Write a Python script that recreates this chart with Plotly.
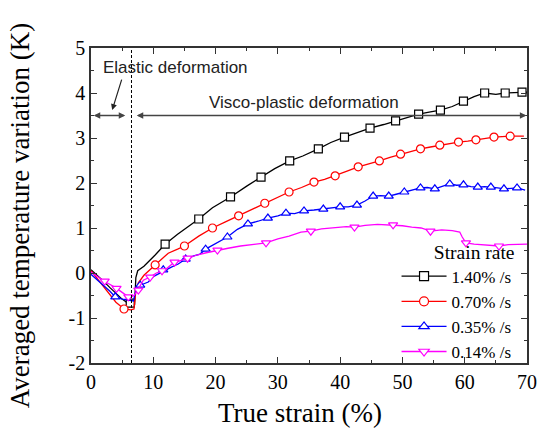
import plotly.graph_objects as go

# ---------------- data ----------------
series_names = ["1.40% /s", "0.70% /s", "0.35% /s", "0.14% /s"]

# 1.40 %/s
k_x = [0, 1, 2, 3, 4, 5, 6, 6.3, 7.0, 7.2, 7.5, 8.5, 10.3, 11.9, 13.9, 15.5, 17.3, 19.5, 22.4, 25, 27.3,
       29.5, 31.9, 34, 36.5, 38.5, 40.7, 42.8, 44.8, 47, 48.9, 50.8, 52.6, 54.5, 56.1, 58, 59.8, 61.5,
       63.2, 65, 66.5, 68, 69.2, 70]
k_y = [0.07, -0.05, -0.18, -0.32, -0.45, -0.58, -0.68, -0.67, -0.70, -0.10, 0.05, 0.15, 0.40, 0.64, 0.86,
       1.02, 1.20, 1.45, 1.69, 1.93, 2.13, 2.32, 2.49, 2.60, 2.76, 2.90, 3.02, 3.12, 3.22, 3.30, 3.38,
       3.47, 3.53, 3.58, 3.62, 3.70, 3.82, 3.92, 4.00, 3.97, 4.00, 4.01, 4.02, 4.02]
k_mx = [6.3, 11.9, 17.3, 22.4, 27.3, 31.9, 36.5, 40.7, 44.8, 48.9, 52.6, 56.1, 59.8, 63.2, 66.5, 69.2]
k_my = [-0.67, 0.64, 1.20, 1.69, 2.13, 2.49, 2.76, 3.02, 3.22, 3.38, 3.53, 3.62, 3.82, 4.00, 4.00, 4.02]

# 0.70 %/s
r_x = [0, 1, 2, 3, 4, 5.3, 6.4, 6.9, 7.2, 7.6, 8.5, 10.3, 12.4, 13.9, 15, 17.3, 19.5, 21.5, 23.7, 25.8,
       27.9, 30, 31.8, 33.8, 35.8, 37.5, 39.2, 41, 42.9, 44.6, 46.3, 48, 49.7, 51.3, 52.9, 54.5, 56,
       57.5, 59, 60.5, 61.8, 63.2, 64.7, 66, 67.3, 69.5]
r_y = [0.05, -0.12, -0.30, -0.48, -0.65, -0.80, -0.82, -0.80, -0.40, -0.22, -0.05, 0.18, 0.44, 0.53,
       0.60, 0.82, 1.00, 1.13, 1.27, 1.42, 1.55, 1.68, 1.80, 1.90, 2.02, 2.08, 2.16, 2.26, 2.36, 2.42,
       2.49, 2.57, 2.64, 2.70, 2.76, 2.80, 2.84, 2.87, 2.91, 2.93, 2.96, 2.99, 3.02, 3.03, 3.04, 3.04]
r_mx = [5.3, 10.3, 15, 19.5, 23.7, 27.9, 31.8, 35.8, 39.2, 42.9, 46.3, 49.7, 52.9, 56, 59, 61.8, 64.7, 67.3]
r_my = [-0.80, 0.18, 0.60, 1.00, 1.27, 1.55, 1.80, 2.02, 2.16, 2.36, 2.49, 2.64, 2.76, 2.84, 2.91, 2.96,
        3.02, 3.04]

# 0.35 %/s
b_x = [0, 1, 2, 3, 3.9, 5, 6.0, 6.8, 7.1, 7.5, 8.3, 9.2, 10, 11.1, 12, 12.9, 14, 15.2, 16.5, 17.5, 18.4,
       19.5, 20.5, 21.9, 23.5, 25.2, 26.8, 28.4, 30, 31.3, 32.7, 34.2, 35.8, 37.3, 38.7, 40, 41.3, 42.7,
       44, 45.3, 46.5, 47.8, 49, 50.3, 51.5, 52.9, 54, 55.2, 56.5, 57.6, 58.7, 59.8, 61, 62.1, 63.2,
       64.2, 65.3, 66.3, 67.4, 68.4, 69.7]
b_y = [-0.03, -0.15, -0.28, -0.40, -0.53, -0.58, -0.60, -0.62, -0.45, -0.33, -0.25, -0.20, -0.08, 0.00,
       0.08, 0.13, 0.20, 0.31, 0.38, 0.42, 0.53, 0.62, 0.70, 0.80, 0.97, 1.09, 1.15, 1.22, 1.27, 1.33,
       1.32, 1.38, 1.40, 1.42, 1.45, 1.47, 1.47, 1.51, 1.60, 1.71, 1.72, 1.71, 1.75, 1.80, 1.83, 1.89,
       1.90, 1.87, 1.93, 1.98, 1.95, 1.96, 1.92, 1.91, 1.92, 1.91, 1.89, 1.87, 1.88, 1.89, 1.84]
b_mx = [3.9, 7.9, 11.6, 15.2, 18.4, 21.9, 25.2, 28.4, 31.3, 34.2, 37.3, 40, 42.7, 45.3, 47.8, 50.3, 52.9,
        55.2, 57.6, 59.8, 62.1, 64.2, 66.3, 68.4]
b_my = [-0.53, -0.27, 0.07, 0.31, 0.53, 0.80, 1.09, 1.22, 1.33, 1.38, 1.42, 1.47, 1.51, 1.71, 1.71, 1.80,
        1.89, 1.87, 1.98, 1.96, 1.91, 1.91, 1.87, 1.89]

# 0.14 %/s
m_x = [0, 1, 2.3, 3, 4.0, 5, 5.6, 6.5, 6.9, 7.5, 8.4, 9.5, 10.5, 11.9, 13.2, 14.5, 15.5, 17, 18.5, 20.3,
       22, 24, 26, 28.1, 30, 31.8, 33.7, 35.3, 37, 39, 41, 42.3, 44, 46, 48.5, 50, 51.5, 53, 54.5, 56.3,
       58, 59.2, 59.6, 60.2, 61.5, 63, 65.5, 67, 68.5, 70]
m_y = [0.02, -0.08, -0.20, -0.25, -0.33, -0.43, -0.49, -0.53, -0.50, -0.38, -0.16, -0.09, 0.00, 0.07,
       0.22, 0.28, 0.33, 0.40, 0.45, 0.51, 0.55, 0.60, 0.64, 0.67, 0.76, 0.82, 0.91, 0.93, 0.98, 1.00,
       1.03, 1.02, 1.06, 1.08, 1.07, 1.05, 1.02, 1.00, 0.93, 0.96, 0.94, 0.91, 0.80, 0.67, 0.64, 0.63,
       0.60, 0.63, 0.63, 0.64]
m_mx = [2.2, 4.1, 6.0, 7.6, 9.5, 11.4, 13.4, 15.5, 20.3, 28.1, 35.3, 42.3, 48.5, 54.5, 60.2, 65.5]
m_my = [-0.18, -0.34, -0.53, -0.38, -0.09, 0.05, 0.24, 0.33, 0.51, 0.67, 0.93, 1.02, 1.07, 0.93, 0.67, 0.60]

x_ticks = [0, 10, 20, 30, 40, 50, 60, 70]
y_ticks = [-2, -1, 0, 1, 2, 3, 4, 5]
elastic_limit = 6.5

colors = ["#000000", "#ff0000", "#0000ff", "#ff00ff"]
symbols = ["square", "circle", "triangle-up", "triangle-down"]
lines = [(k_x, k_y), (r_x, r_y), (b_x, b_y), (m_x, m_y)]
marks = [(k_mx, k_my), (r_mx, r_my), (b_mx, b_my), (m_mx, m_my)]

SERIF = "Liberation Serif, Times New Roman, serif"
SANS = "Liberation Sans, Arial, sans-serif"

fig = go.Figure()
for i in range(4):
    c = colors[i]
    mk = dict(symbol=symbols[i], size=8, color="white", line=dict(color=c, width=1.2))
    fig.add_trace(go.Scatter(x=lines[i][0], y=lines[i][1], mode="lines",
                             line=dict(color=c, width=1.3), showlegend=False, hoverinfo="skip"))
    fig.add_trace(go.Scatter(x=marks[i][0], y=marks[i][1], mode="markers",
                             marker=mk, showlegend=False))
for i in range(4):
    c = colors[i]
    mk = dict(symbol=symbols[i], size=9, color="white", line=dict(color=c, width=1.2))
    fig.add_trace(go.Scatter(x=[None], y=[None], mode="lines+markers", name=series_names[i],
                             line=dict(color=c, width=1.3), marker=mk))

# dashed boundary
fig.add_shape(type="line", xref="x", yref="paper", x0=elastic_limit, x1=elastic_limit, y0=0, y1=1,
              line=dict(color="black", width=1, dash="3px,2px"))

arrow_col = "#444444"
# double arrows
fig.add_annotation(x=5.5, y=3.5, ax=0.2, ay=3.5, xref="x", yref="y", axref="x", ayref="y",
                   showarrow=True, arrowhead=2, startarrowhead=2, arrowside="end+start",
                   arrowsize=1, arrowwidth=1.3, arrowcolor=arrow_col, text="")
fig.add_annotation(x=69.9, y=3.5, ax=7.1, ay=3.5, xref="x", yref="y", axref="x", ayref="y",
                   showarrow=True, arrowhead=2, startarrowhead=2, arrowside="end+start",
                   arrowsize=1, arrowwidth=1.3, arrowcolor=arrow_col, text="")
# pointer
fig.add_annotation(x=3.4, y=3.62, ax=5.0, ay=4.33, xref="x", yref="y", axref="x", ayref="y",
                   showarrow=True, arrowhead=2, arrowsize=1, arrowwidth=1.2, arrowcolor="#222222",
                   text="")
fig.add_annotation(x=13.5, y=4.56, xref="x", yref="y", text="Elastic deformation", showarrow=False,
                   font=dict(family=SANS, size=17, color="#222222"))
fig.add_annotation(x=34.2, y=3.78, xref="x", yref="y", text="Visco-plastic deformation", showarrow=False,
                   font=dict(family=SANS, size=17, color="#222222"))

# axis titles
fig.add_annotation(x=0.479, y=-0.159, xref="paper", yref="paper", text="True strain (%)",
                   showarrow=False, yanchor="middle", font=dict(family=SERIF, size=27, color="black"))
fig.add_annotation(x=-0.162, y=0.47, xref="paper", yref="paper", text="Averaged temperature variation (K)",
                   showarrow=False, textangle=-90, xanchor="center", yanchor="middle",
                   font=dict(family=SERIF, size=27, color="black"))

axis_common = dict(showline=True, linecolor="#333333", linewidth=1.5, mirror="ticks", ticks="inside",
                   ticklen=6, tickwidth=1.2, tickcolor="#333333", showgrid=False, zeroline=False,
                   tickfont=dict(family=SERIF, size=20, color="black"))
fig.update_xaxes(range=[0, 70], tickvals=x_ticks, ticktext=[str(v) for v in x_ticks],
                 minor=dict(dtick=5, ticks="inside", ticklen=3.5, tickcolor="#333333", tickwidth=1.2),
                 **axis_common)
fig.update_yaxes(range=[-2, 5], tickvals=y_ticks, ticktext=[str(v) for v in y_ticks],
                 minor=dict(dtick=0.5, ticks="inside", ticklen=3.5, tickcolor="#333333", tickwidth=1.2),
                 **axis_common)

fig.update_layout(
    width=537, height=434,
    margin=dict(l=91, r=10, t=48, b=71, autoexpand=False),
    paper_bgcolor="white", plot_bgcolor="white",
    legend=dict(x=0.976, y=-0.02, xanchor="right", yanchor="bottom", bgcolor="rgba(0,0,0,0)",
                font=dict(family=SERIF, size=17, color="black"), itemwidth=45, tracegroupgap=0,
                title=dict(text="Strain rate", side="top right",
                           font=dict(family=SERIF, size=19.5, color="black"))),
)

fig.write_html("out.html")
